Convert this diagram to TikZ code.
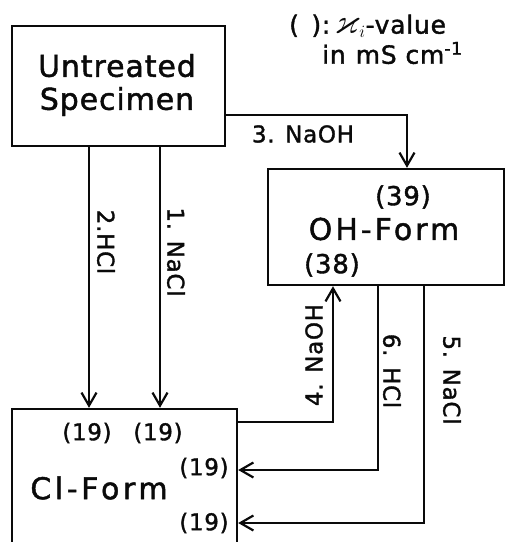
\documentclass[tikz,border=0pt]{standalone}
\usepackage{amsmath,amssymb}
\usepackage{fontspec}
\setmainfont{DejaVu Sans}[LetterSpace=3,FakeBold=1.5]
\usepackage{tikz}
\usetikzlibrary{arrows.meta,positioning}
\definecolor{ionInk}{RGB}{10,10,10}

\begin{document}
\begin{tikzpicture}[x=1pt, y=-1pt, >={Straight Barb[length=13pt,width=15pt]},
  font=\fontsize{23}{25}\selectfont, text=ionInk]
\tikzstyle{form}=[draw=ionInk, line width=2.4pt, rectangle, inner sep=0pt]
\tikzstyle{formtxt}=[font=\fontsize{30}{33}\selectfont, align=center, inner sep=0pt]
\tikzstyle{val}=[inner sep=0pt]
\tikzstyle{flow}=[draw=ionInk, line width=2.2pt, ->]
\tikzstyle{treat}=[inner sep=0pt]

\useasboundingbox (0,0) rectangle (505,542);
\clip (0,0) rectangle (505,542);

% the three forms of the specimen
\node[form, minimum width=213pt, minimum height=120pt] (untr) at (118.5,86) {};
\node[formtxt] (untrtxt) at (117,85) {Untreated\\Specimen};
\node[form, minimum width=236pt, minimum height=116pt] (ohf) at (386,227) {};
\node[formtxt] (ohtxt) at (384,229) {\addfontfeature{LetterSpace=10}OH-Form};
\node[form, minimum width=225pt, minimum height=160pt] (clf) at (124.5,489) {};
\node[formtxt] (cltxt) at (99,488) {\addfontfeature{LetterSpace=12}Cl-Form};

% conductivity values
\node[val, font=\fontsize{26}{28}\selectfont] (oh39) at (403,197) {(39)};
\node[val, font=\fontsize{26}{28}\selectfont] (oh38) at (332,265) {(38)};
\node[val] (cl19a) at (87,433) {(19)};
\node[val] (cl19b) at (158,433) {(19)};
\node[val] (cl19c) at (204,468) {(19)};
\node[val] (cl19d) at (204,523) {(19)};

% legend
\node[val, anchor=west, font=\fontsize{25}{27}\selectfont] (legA) at (289,26)
  {(\hspace{0.5em}):\,\scalebox{1.4}{$\varkappa$}$_i$-value};
\node[val, anchor=west, font=\fontsize{25}{27}\selectfont] (legB) at (322,53)
  {in\hspace{0.4em}mS\hspace{0.35em}cm\textsuperscript{-1}};

% connector positions
\coordinate (x1) at (160,0);
\coordinate (x2) at (89,0);
\coordinate (b3) at (407,115);
\coordinate (b4) at (333,422);
\coordinate (b6) at (378,470);
\coordinate (b5) at (424,523);

\draw[flow] (untr.south -| x1) -- (clf.north -| x1);
\draw[flow] (untr.south -| x2) -- (clf.north -| x2);
\draw[flow] (untr.east |- b3) -| (ohf.north -| b3);
\draw[flow] (clf.east |- b4) -| (ohf.south -| b4);
\draw[flow] (ohf.south -| b5) |- (clf.east |- b5);
\draw[flow] (ohf.south -| b6) |- (clf.east |- b6);

% treatment labels
\node[treat, rotate=-90] (s1) at (176,252) {1. NaCl};
\node[treat, rotate=-90] (s2) at (106,242) {2.HCl};
\node[treat] (s3) at (303,134) {3. NaOH};
\node[treat, rotate=90] (s4) at (314,355) {4. NaOH};
\node[treat, rotate=-90] (s5) at (452,380) {5. NaCl};
\node[treat, rotate=-90] (s6) at (392,371) {6. HCl};
\end{tikzpicture}
\end{document}
